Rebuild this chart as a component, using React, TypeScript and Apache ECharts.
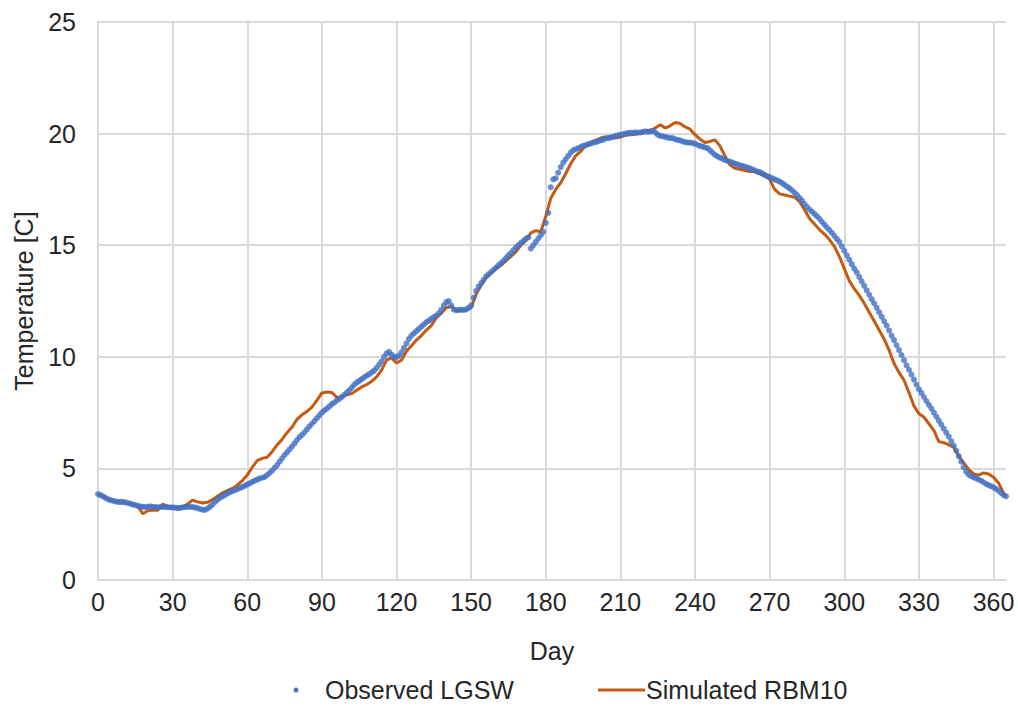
import React, { useEffect, useRef } from "react";
import * as echarts from "echarts";

// Observed LGSW daily values, day 0..365
const observedTemps: number[] = [
  3.85, 3.8, 3.75, 3.68, 3.62, 3.58, 3.55, 3.52, 3.5, 3.5,
  3.5, 3.48, 3.45, 3.42, 3.38, 3.36, 3.32, 3.3, 3.28, 3.27,
  3.28, 3.3, 3.28, 3.27, 3.26, 3.27, 3.28, 3.27, 3.26, 3.25,
  3.25, 3.24, 3.22, 3.23, 3.25, 3.27, 3.28, 3.28, 3.27, 3.25,
  3.22, 3.18, 3.15, 3.14, 3.2, 3.28, 3.38, 3.5, 3.6, 3.68,
  3.75, 3.8, 3.88, 3.93, 3.98, 4.02, 4.07, 4.12, 4.17, 4.22,
  4.28, 4.33, 4.4, 4.45, 4.5, 4.55, 4.58, 4.62, 4.7, 4.8,
  4.9, 5.02, 5.15, 5.3, 5.45, 5.6, 5.72, 5.85, 5.98, 6.12,
  6.27, 6.4, 6.5, 6.62, 6.75, 6.88, 7.0, 7.12, 7.25, 7.38,
  7.5, 7.6, 7.68, 7.78, 7.88, 7.95, 8.05, 8.12, 8.2, 8.3,
  8.4, 8.5, 8.62, 8.75, 8.85, 8.92, 9.0, 9.08, 9.15, 9.22,
  9.3, 9.38, 9.5, 9.65, 9.8, 10.0, 10.15, 10.22, 10.1, 10.0,
  9.98, 10.05, 10.2, 10.4, 10.6, 10.8, 10.95, 11.05, 11.15, 11.25,
  11.35, 11.45, 11.55, 11.62, 11.7, 11.78, 11.85, 11.95, 12.1, 12.3,
  12.45, 12.5, 12.3, 12.12, 12.08, 12.1, 12.12, 12.1, 12.12, 12.2,
  12.3, 12.65, 12.95, 13.15, 13.3, 13.45, 13.6, 13.7, 13.8, 13.9,
  14.0, 14.1, 14.2, 14.3, 14.42, 14.55, 14.65, 14.78, 14.9, 15.0,
  15.1, 15.2, 15.3, 15.35, 14.85, 15.0, 15.15, 15.3, 15.45, 15.6,
  16.0, 16.45, 17.6, 17.95, 18.0, 18.25, 18.5, 18.7, 18.85, 19.0,
  19.15, 19.25, 19.3, 19.35, 19.4, 19.45, 19.48, 19.52, 19.55, 19.6,
  19.62, 19.65, 19.7, 19.72, 19.78, 19.8, 19.82, 19.85, 19.9, 19.92,
  19.95, 19.97, 20.0, 20.02, 20.05, 20.02, 20.06, 20.05, 20.05, 20.08,
  20.1, 20.08, 20.1, 20.12, 20.05, 19.95, 19.9, 19.88, 19.85, 19.82,
  19.8, 19.8, 19.75, 19.72, 19.7, 19.65, 19.62, 19.6, 19.6, 19.58,
  19.55, 19.5, 19.45, 19.42, 19.38, 19.35, 19.25, 19.15, 19.05, 18.98,
  18.92, 18.88, 18.82, 18.78, 18.75, 18.7, 18.66, 18.62, 18.58, 18.55,
  18.52, 18.48, 18.45, 18.4, 18.35, 18.3, 18.28, 18.22, 18.15, 18.1,
  18.05, 18.0, 17.95, 17.9, 17.85, 17.78, 17.7, 17.62, 17.55, 17.45,
  17.35, 17.25, 17.12, 17.0, 16.85, 16.72, 16.6, 16.5, 16.4, 16.3,
  16.18, 16.05, 15.92, 15.8, 15.68, 15.55, 15.42, 15.28, 15.15, 14.95,
  14.75, 14.55, 14.35, 14.15, 13.95, 13.78, 13.58, 13.38, 13.18, 12.98,
  12.78, 12.58, 12.4, 12.2, 12.0, 11.8, 11.6, 11.4, 11.18, 10.95,
  10.75, 10.52, 10.3, 10.08, 9.85, 9.62, 9.42, 9.2, 8.98, 8.76,
  8.55, 8.38, 8.2, 8.02, 7.85, 7.68, 7.5, 7.32, 7.14, 6.96,
  6.78, 6.6, 6.42, 6.22, 6.02, 5.8, 5.55, 5.3, 5.05, 4.85,
  4.72, 4.65, 4.6, 4.55, 4.5, 4.45, 4.38, 4.3, 4.25, 4.2,
  4.15, 4.08, 4.0, 3.9, 3.8, 3.75,
];

// Simulated RBM10, sampled days and values
const simulatedDays: number[] = [
  0, 2, 4, 6, 8, 10, 12, 14, 16, 18, 20, 22, 24, 26, 28, 30, 32, 34, 36, 38,
  40, 42, 44, 46, 48, 50, 52, 54, 56, 58, 60, 62, 64, 66, 68, 70, 72, 74, 76, 78,
  80, 82, 84, 86, 88, 90, 92, 94, 96, 98, 100, 102, 104, 106, 108, 110, 112, 114, 116, 118,
  120, 122, 124, 126, 128, 130, 132, 134, 136, 138, 140, 142, 144, 146, 148, 150, 152, 154, 156, 158,
  160, 162, 164, 166, 168, 170, 172, 174, 176, 178, 180, 182, 184, 186, 188, 190, 192, 194, 196, 198,
  200, 202, 204, 206, 208, 210, 212, 214, 216, 218, 220, 222, 224, 226, 228, 230, 232, 234, 236, 238,
  240, 242, 244, 246, 248, 250, 252, 254, 256, 258, 260, 262, 264, 266, 268, 270, 272, 274, 276, 278,
  280, 282, 284, 286, 288, 290, 292, 294, 296, 298, 300, 302, 304, 306, 308, 310, 312, 314, 316, 318,
  320, 322, 324, 326, 328, 330, 332, 334, 336, 338, 340, 342, 344, 346, 348, 350, 352, 354, 356, 358,
  360, 362, 364, 365,
];
const simulatedTemps: number[] = [
  3.85, 3.75, 3.65, 3.55, 3.5, 3.45, 3.45, 3.4, 3.3, 2.97, 3.1, 3.14, 3.12, 3.4, 3.3, 3.27, 3.25, 3.28, 3.4, 3.58,
  3.5, 3.45, 3.48, 3.6, 3.75, 3.9, 4.0, 4.1, 4.25, 4.45, 4.7, 5.05, 5.35, 5.45, 5.5, 5.75, 6.05, 6.3, 6.6, 6.85,
  7.2, 7.4, 7.55, 7.75, 8.05, 8.38, 8.42, 8.4, 8.18, 8.2, 8.3, 8.35, 8.5, 8.65, 8.75, 8.9, 9.1, 9.4, 9.85, 9.95,
  9.72, 9.85, 10.25, 10.5, 10.75, 10.95, 11.2, 11.4, 11.75, 11.95, 12.2, 12.25, 12.1, 12.05, 12.1, 12.2, 12.8, 13.2, 13.55, 13.75,
  13.95, 14.1, 14.3, 14.5, 14.7, 15.0, 15.2, 15.55, 15.65, 15.6, 16.3, 17.1, 17.5, 17.8, 18.2, 18.65, 19.0, 19.2, 19.45, 19.6,
  19.7, 19.8, 19.85, 19.85, 19.8, 19.85, 19.92, 19.95, 19.97, 20.0, 20.1, 20.15, 20.25, 20.4, 20.25, 20.35, 20.5, 20.45, 20.3, 20.2,
  19.95, 19.75, 19.6, 19.65, 19.72, 19.45, 19.0, 18.6, 18.45, 18.4, 18.35, 18.3, 18.3, 18.2, 18.1, 17.95, 17.5, 17.3, 17.25, 17.2,
  17.15, 16.95, 16.6, 16.2, 15.95, 15.7, 15.5, 15.25, 14.95, 14.5, 13.95, 13.4, 13.05, 12.75, 12.4, 12.0, 11.6, 11.2, 10.8, 10.3,
  9.7, 9.3, 8.95, 8.4, 7.8, 7.45, 7.3, 7.0, 6.7, 6.2, 6.15, 6.05, 5.95, 5.55, 5.25, 4.95, 4.75, 4.7, 4.8, 4.75,
  4.6, 4.35, 3.9, 3.75,
];

const seriesNames = ["Observed LGSW", "Simulated RBM10"];
const xTitle = "Day";
const yTitle = "Temperature [C]";

const FONT = "Liberation Sans, Arial, sans-serif";
const TEXT = "#262626";
const GRID = "#d9d9d9";
const BLUE = "#4472C4";
const ORANGE = "#C55A11";
const FS = 25;

export default function App() {
  const ref = useRef<HTMLDivElement>(null);
  useEffect(() => {
    if (!ref.current) return;
    const chart = echarts.init(ref.current, undefined, { renderer: "svg" });
    const obs = observedTemps.map((v, i) => [i, v]);
    const sim = simulatedDays.map((d, i) => [d, simulatedTemps[i]]);
    chart.setOption({
      animation: false,
      textStyle: { fontFamily: FONT },
      grid: { left: 98, right: 12, top: 22, bottom: 126, containLabel: false },
      xAxis: {
        type: "value",
        min: 0,
        max: 365,
        interval: 30,
        name: xTitle,
        nameLocation: "middle",
        nameGap: 58,
        nameTextStyle: { fontSize: FS, color: TEXT, fontFamily: FONT },
        axisLine: { show: true, lineStyle: { color: GRID, width: 2 } },
        axisTick: { show: false },
        axisLabel: { fontSize: FS, color: TEXT, margin: 9, showMaxLabel: false, fontFamily: FONT },
        splitLine: { show: true, showMaxLine: false, lineStyle: { color: GRID, width: 2 } },
      },
      yAxis: {
        type: "value",
        min: 0,
        max: 25,
        interval: 5,
        name: yTitle,
        nameLocation: "middle",
        nameGap: 62,
        nameTextStyle: { fontSize: FS, color: TEXT, fontFamily: FONT },
        axisLine: { show: true, lineStyle: { color: GRID, width: 2 } },
        axisTick: { show: false },
        axisLabel: { fontSize: FS, color: TEXT, margin: 22, fontFamily: FONT },
        splitLine: { show: true, lineStyle: { color: GRID, width: 2 } },
      },
      series: [
        {
          name: seriesNames[1],
          type: "line",
          data: sim,
          showSymbol: false,
          smooth: false,
          lineStyle: { color: ORANGE, width: 3 },
          itemStyle: { color: ORANGE },
          z: 2,
        },
        {
          name: seriesNames[0],
          type: "scatter",
          data: obs,
          symbol: "circle",
          symbolSize: 6,
          itemStyle: { color: BLUE },
          z: 3,
        },
      ],
      graphic: [
        { type: "circle", shape: { cx: 296, cy: 690, r: 2.5 }, style: { fill: BLUE } },
        {
          type: "text",
          x: 325,
          y: 690,
          style: { text: seriesNames[0], fontSize: FS, fill: TEXT, fontFamily: FONT, verticalAlign: "middle" },
        },
        { type: "line", shape: { x1: 598, y1: 690, x2: 645, y2: 690 }, style: { stroke: ORANGE, lineWidth: 3 } },
        {
          type: "text",
          x: 646,
          y: 690,
          style: { text: seriesNames[1], fontSize: FS, fill: TEXT, fontFamily: FONT, verticalAlign: "middle" },
        },
      ],
    });
    return () => chart.dispose();
  }, []);
  return (
    <div
      ref={ref}
      style={{ position: "fixed", left: 0, top: 0, width: 1018, height: 706, background: "#fff" }}
    />
  );
}
